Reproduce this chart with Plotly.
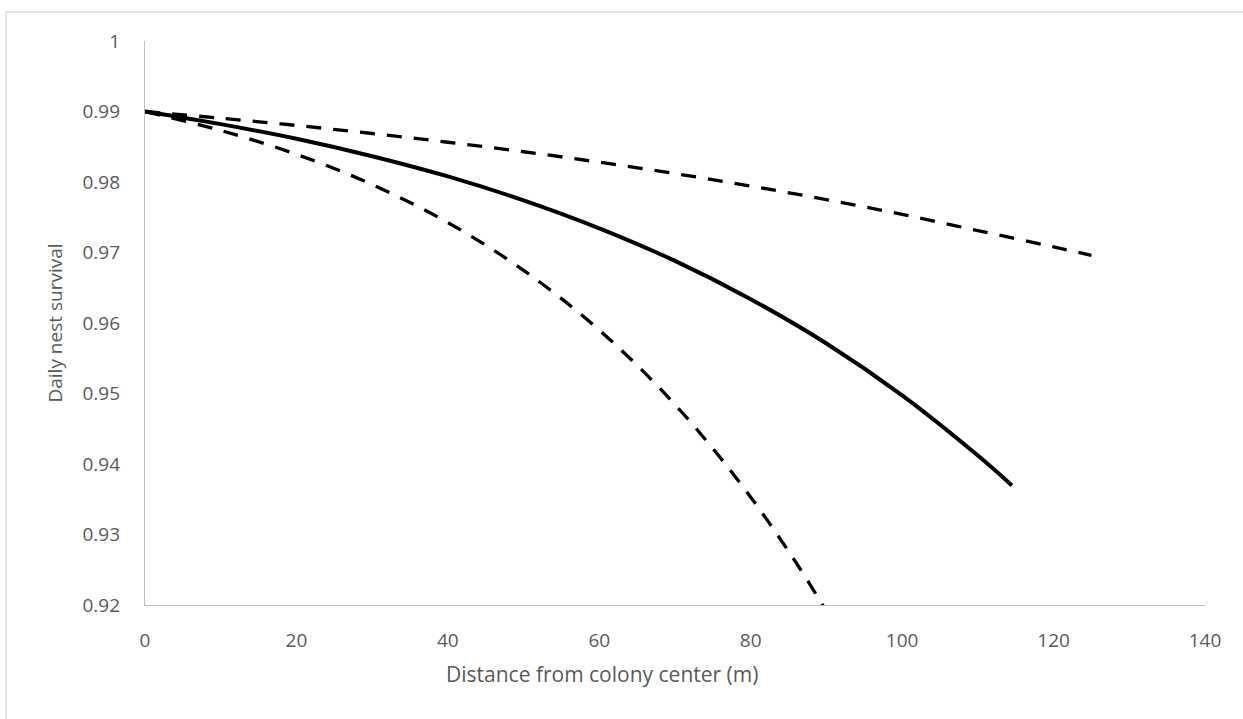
import plotly.graph_objects as go

# Distance from colony center (m)
x_est = [0, 10, 20, 30, 40, 50, 60, 70, 80, 90, 100, 110, 114.5]
y_est = [0.9900, 0.98821, 0.98613, 0.98366, 0.98079, 0.97740, 0.97343,
         0.96881, 0.96338, 0.95710, 0.94974, 0.94120, 0.93696]

x_up = [0, 10, 20, 30, 40, 50, 60, 70, 80, 90, 100, 110, 120, 125]
y_up = [0.9900, 0.98905, 0.98802, 0.98688, 0.98564, 0.98429, 0.98281,
        0.98119, 0.97943, 0.97750, 0.97540, 0.97311, 0.97080, 0.96960]

x_lo = [0, 10, 20, 30, 40, 50, 60, 70, 80, 90, 100]
y_lo = [0.9900, 0.98731, 0.98392, 0.97964, 0.97424, 0.96747, 0.95899,
        0.94842, 0.93529, 0.91912, 0.89940]

x_ticks = [0, 20, 40, 60, 80, 100, 120, 140]
y_ticks = [0.92, 0.93, 0.94, 0.95, 0.96, 0.97, 0.98, 0.99, 1.0]
y_ticktext = ["0.92", "0.93", "0.94", "0.95", "0.96", "0.97", "0.98", "0.99", "1"]

x_title = "Distance from colony center (m)"
y_title = "Daily nest survival"

W, H = 1243, 719
L, R, T, B = 145, 38, 41, 114
pw, ph = W - L - R, H - T - B

fig = go.Figure()
fig.add_trace(go.Scatter(x=x_up, y=y_up, mode="lines", line_shape="spline",
                         line=dict(color="black", width=3.3, dash="15px,12px"),
                         showlegend=False, hoverinfo="skip"))
fig.add_trace(go.Scatter(x=x_lo, y=y_lo, mode="lines", line_shape="spline",
                         line=dict(color="black", width=3.3, dash="15px,12px"),
                         showlegend=False, hoverinfo="skip"))
fig.add_trace(go.Scatter(x=x_est, y=y_est, mode="lines", line_shape="spline",
                         line=dict(color="black", width=4),
                         showlegend=False, hoverinfo="skip"))

font_family = "Open Sans, Liberation Sans, sans-serif"

# outer chart-area border (light gray), extending off the page to the right and bottom
fig.add_shape(type="rect", xref="paper", yref="paper",
              x0=(6 - L) / pw, x1=(W + 40 - L) / pw,
              y0=-(H + 40 - T - ph) / ph, y1=(T + ph - 12) / ph,
              line=dict(color="#d9d9d9", width=1.5), layer="below")

# x-axis title placed as in the reference (slightly left of plot centre)
fig.add_annotation(text=x_title, xref="paper", yref="paper",
                   x=(602 - L) / pw, y=-(674 - T - ph) / ph,
                   xanchor="center", yanchor="middle", showarrow=False,
                   font=dict(size=21, color="#595959", family=font_family))

fig.update_layout(
    width=W, height=H,
    margin=dict(l=L, r=R, t=T, b=B, pad=0),
    paper_bgcolor="white", plot_bgcolor="white",
    font=dict(family=font_family, color="#595959", size=18),
    xaxis=dict(range=[0, 140], tickvals=x_ticks, showgrid=False, zeroline=False,
               showline=True, linecolor="#bfbfbf", linewidth=1.3, ticks="",
               ticklabelstandoff=18, tickfont=dict(size=19, color="#595959")),
    yaxis=dict(range=[0.92, 1.0], tickvals=y_ticks, ticktext=y_ticktext,
               showgrid=False, zeroline=False,
               showline=True, linecolor="#bfbfbf", linewidth=1.3, ticks="",
               ticklabelstandoff=20, tickfont=dict(size=19, color="#595959"),
               title=dict(text=y_title, standoff=14,
                          font=dict(size=19, color="#595959"))),
)

fig.write_html("out.html")
